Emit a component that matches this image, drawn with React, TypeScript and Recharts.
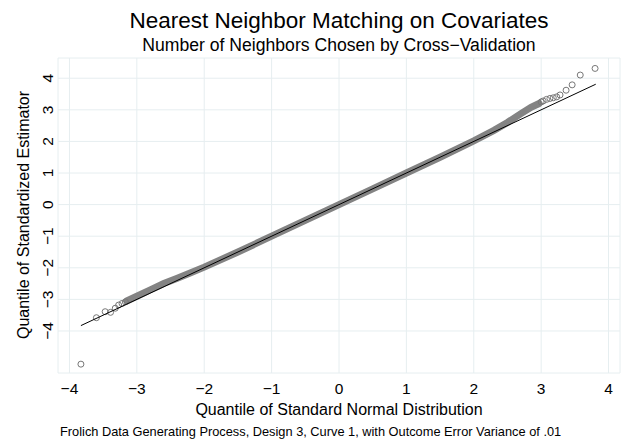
import { ComposedChart, Scatter, XAxis, YAxis, CartesianGrid } from 'recharts';

// axis ticks
const xTicks = [-4, -3, -2, -1, 0, 1, 2, 3, 4];
const yTicks = [-4, -3, -2, -1, 0, 1, 2, 3, 4];

// dense middle of the qq band (normal quantile, sample quantile)
const bandQ = [-3.15, -3.0, -2.8, -2.6, -2.4, -2.2, -2.0, -1.5, -1.0, -0.5, 0, 0.5, 1.0, 1.5, 2.0, 2.3, 2.5, 2.7, 2.85, 2.97];
const bandS = [-3.05, -2.9, -2.7, -2.5, -2.33, -2.16, -1.98, -1.5, -1.0, -0.5, 0, 0.5, 1.0, 1.5, 2.02, 2.35, 2.6, 2.88, 3.08, 3.2];

// separate circles in the tails
const lowQ = [-3.83, -3.6, -3.47, -3.39, -3.32, -3.27, -3.22, -3.17];
const lowS = [-5.05, -3.58, -3.39, -3.41, -3.28, -3.18, -3.13, -3.08];
const highQ = [3.0, 3.03, 3.08, 3.13, 3.18, 3.23, 3.28, 3.37, 3.46, 3.58, 3.8];
const highS = [3.25, 3.28, 3.33, 3.36, 3.38, 3.41, 3.47, 3.62, 3.79, 4.1, 4.31];

// 45 degree reference line
const refQ = [-3.83, 3.81];
const refS = [-3.83, 3.81];

const zip = (q: number[], s: number[]) => q.map((v, i) => ({ q: v, s: s[i] }));
const band = zip(bandQ, bandS);
const tails = [...zip(lowQ, lowS), ...zip(highQ, highS)];
const ref = zip(refQ, refS);

const FONT = '"Liberation Sans", Arial, Helvetica, sans-serif';
const fmt = (v: number) => (v < 0 ? `\u2212${-v}` : `${v}`);

const XTick = (props: any) => (
  <text x={props.x} y={393.5} textAnchor="middle" fontSize={15.5} fontFamily={FONT} fill="#000">
    {fmt(props.payload.value)}
  </text>
);

const YTick = (props: any) => (
  <text
    x={53.5}
    y={props.y}
    transform={`rotate(-90, 53.5, ${props.y})`}
    textAnchor="middle"
    fontSize={15.5}
    fontFamily={FONT}
    fill="#000"
  >
    {fmt(props.payload.value)}
  </text>
);

const Ring = (props: any) => (
  <circle cx={props.cx} cy={props.cy} r={3} fill="none" stroke="#777" strokeWidth={1} />
);
const NoDot = () => <g />;

export default function App() {
  return (
    <div style={{ position: 'absolute', left: 0, top: 0, width: 623, height: 440, background: '#fff' }}>
      <ComposedChart width={623} height={440} margin={{ top: 58, right: 3, left: 0, bottom: 0 }}>
        <CartesianGrid stroke="#e6eef0" strokeWidth={1} />
        <XAxis
          type="number"
          dataKey="q"
          domain={[-4.17, 4.17]}
          ticks={xTicks}
          height={67}
          axisLine={false}
          tickLine={false}
          tick={XTick}
          allowDataOverflow
        />
        <YAxis
          type="number"
          dataKey="s"
          domain={[-5.33, 4.64]}
          ticks={yTicks}
          width={58}
          axisLine={false}
          tickLine={false}
          tick={YTick}
          allowDataOverflow
        />
        <Scatter
          data={band}
          shape={NoDot}
          line={{ stroke: '#838383', strokeWidth: 7, strokeLinecap: 'round' }}
          isAnimationActive={false}
        />
        <Scatter data={tails} shape={Ring} isAnimationActive={false} />
        <Scatter
          data={ref}
          shape={NoDot}
          line={{ stroke: '#000', strokeWidth: 1 }}
          isAnimationActive={false}
        />
      </ComposedChart>
      <svg
        width={623}
        height={440}
        style={{ position: 'absolute', left: 0, top: 0, pointerEvents: 'none' }}
        fontFamily={FONT}
      >
        <text x={339} y={28} textAnchor="middle" fontSize={22.5}>
          Nearest Neighbor Matching on Covariates
        </text>
        <text x={339} y={51} textAnchor="middle" fontSize={17.6}>
          Number of Neighbors Chosen by Cross{'\u2212'}Validation
        </text>
        <text x={339} y={415} textAnchor="middle" fontSize={16}>
          Quantile of Standard Normal Distribution
        </text>
        <text x={29} y={215} textAnchor="middle" fontSize={16} transform="rotate(-90, 29, 215)">
          Quantile of Standardized Estimator
        </text>
        <text x={60} y={436} textAnchor="start" fontSize={12.8}>
          Frolich Data Generating Process, Design 3, Curve 1, with Outcome Error Variance of .01
        </text>
      </svg>
    </div>
  );
}
